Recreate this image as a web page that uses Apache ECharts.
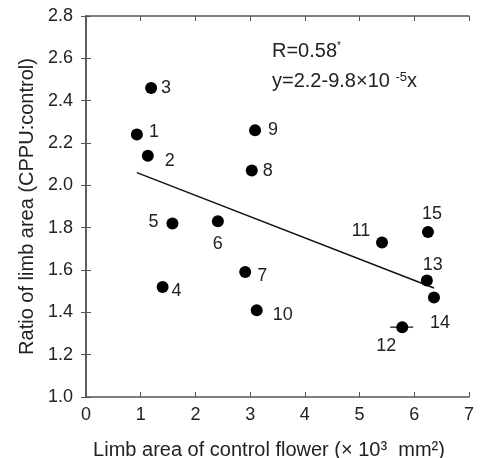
<!DOCTYPE html>
<html lang="en">
<head>
    <meta charset="UTF-8">
    <title>Limb area ratio</title>
    <script src="https://cdn.jsdelivr.net/npm/echarts@6.0.0/dist/echarts.min.js"></script>
    <style>
        * { margin: 0; padding: 0; }
        #chart { width: 485px; height: 458px; background: #fff; }
    </style>
</head>
<body>
    <div id="chart"></div>
    <script type="text/javascript">
        // flower numbers and their values
        var pointNames = ['1', '2', '3', '4', '5', '6', '7', '8', '9', '10', '11', '12', '13', '14', '15'];
        var limbArea = [0.93, 1.13, 1.19, 1.40, 1.58, 2.41, 2.91, 3.03, 3.09, 3.12, 5.41, 5.78, 6.23, 6.36, 6.25];
        var ratio = [2.24, 2.14, 2.46, 1.52, 1.82, 1.83, 1.59, 2.07, 2.26, 1.41, 1.73, 1.33, 1.55, 1.47, 1.78];

        // horizontal error bar on flower 12
        var errX = [5.56, 5.98];
        var errY = [1.33, 1.33];

        // regression line ends
        var fitX = [0.93, 6.36];
        var fitY = [2.06, 1.515];

        // where each number sits relative to its dot (px)
        var labelOffsets = [[17, -3], [22, 5], [15, 0], [14, 4], [-19, -1], [0, 23], [17, 4], [16, 1],
            [18, 0], [26, 5], [-21, -11], [-16, 19], [6, -16], [6, 26], [4, -18]];

        var font = 'Liberation Sans';
        var txt = '#222';
        var axisCol = '#555';

        var chart = echarts.init(document.getElementById('chart'));

        var points = limbArea.map(function (x, i) {
            return {
                value: [x, ratio[i]],
                label: { offset: labelOffsets[i] }
            };
        });

        var option = {
            animation: false,
            grid: { left: 86, right: 16, top: 16, bottom: 61, outerBoundsMode: 'none' },
            xAxis: [{
                type: 'value', min: 0, max: 7, interval: 1,
                name: 'Limb area of control flower (× 10³  mm²)',
                nameLocation: 'middle', nameGap: 43,
                nameTextStyle: { fontFamily: font, fontSize: 20, color: txt, padding: [0, 17, 0, 0] },
                axisLine: { show: true, lineStyle: { color: axisCol, width: 1.5 } },
                axisTick: { show: true, inside: true, length: 5, lineStyle: { color: axisCol } },
                axisLabel: { fontFamily: font, fontSize: 18, color: txt, margin: 9 },
                splitLine: { show: false }
            }, {
                type: 'value', min: 0, max: 7, interval: 1, position: 'top',
                axisLine: { show: true, lineStyle: { color: axisCol, width: 1.5 } },
                axisTick: { show: true, inside: true, length: 5, lineStyle: { color: axisCol } },
                axisLabel: { show: false },
                splitLine: { show: false }
            }],
            yAxis: [{
                type: 'value', min: 1.0, max: 2.8, interval: 0.2,
                name: 'Ratio of limb area (CPPU:control)',
                nameLocation: 'middle', nameGap: 48,
                nameTextStyle: { fontFamily: font, fontSize: 20, color: txt },
                axisLine: { show: true, lineStyle: { color: axisCol, width: 1.5 } },
                axisTick: { show: true, inside: true, length: 5, lineStyle: { color: axisCol } },
                axisLabel: {
                    fontFamily: font, fontSize: 18, color: txt, margin: 13,
                    formatter: function (v) { return v.toFixed(1); }
                },
                splitLine: { show: false }
            }, {
                type: 'value', min: 1.0, max: 2.8, interval: 0.2, position: 'right',
                axisLine: { show: true, lineStyle: { color: axisCol, width: 1.5 } },
                axisTick: { show: true, inside: true, length: 5, lineStyle: { color: axisCol } },
                axisLabel: { show: false },
                splitLine: { show: false }
            }],
            graphic: [{
                type: 'text', left: 272, top: 41,
                style: {
                    text: 'R=0.58{s|*}',
                    fill: txt, font: '20px "Liberation Sans"',
                    rich: { s: { fontSize: 10, fontFamily: font, fill: txt, verticalAlign: 'top' } }
                }
            }, {
                type: 'text', left: 272, top: 71,
                style: {
                    text: 'y=2.2-9.8×10 {s|-5}x',
                    fill: txt, font: '20px "Liberation Sans"',
                    rich: { s: { fontSize: 13, fontFamily: font, fill: txt, verticalAlign: 'top' } }
                }
            }],
            series: [{
                type: 'line',
                data: fitX.map(function (x, i) { return [x, fitY[i]]; }),
                symbol: 'none',
                lineStyle: { color: '#111', width: 1.5 },
                z: 2
            }, {
                type: 'line',
                data: errX.map(function (x, i) { return [x, errY[i]]; }),
                symbol: 'none',
                lineStyle: { color: '#111', width: 1.2 },
                z: 2
            }, {
                type: 'scatter',
                data: points,
                symbolSize: 12,
                itemStyle: { color: '#000', opacity: 1 },
                label: {
                    show: true, position: 'inside',
                    formatter: function (p) { return pointNames[p.dataIndex]; },
                    fontFamily: font, fontSize: 18, color: txt
                },
                z: 3
            }]
        };

        chart.setOption(option);
    </script>
</body>
</html>
